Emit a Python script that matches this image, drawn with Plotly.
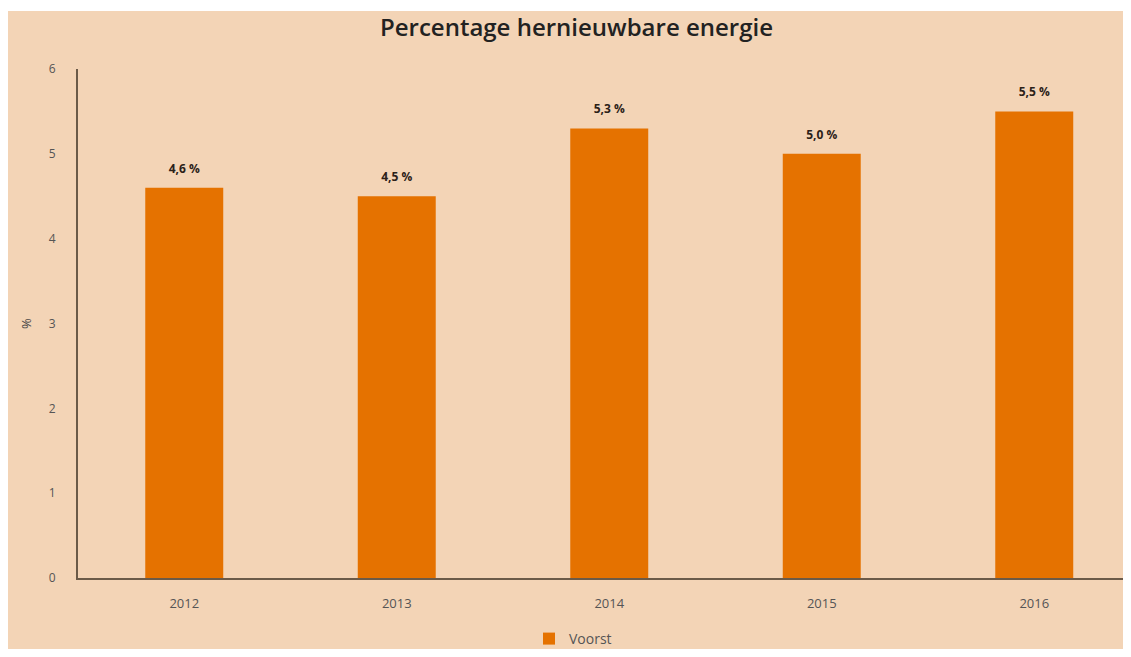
import plotly.graph_objects as go

years = ["2012", "2013", "2014", "2015", "2016"]
values = [4.6, 4.5, 5.3, 5.0, 5.5]
labels = ["4,6 %", "4,5 %", "5,3 %", "5,0 %", "5,5 %"]
series_name = "Voorst"
y_ticks = [0, 1, 2, 3, 4, 5, 6]

# page has an 8px body margin; keep the figure inside the 1131x657 window
W, H = 1123, 641
L, R, T, B = 70, 0, 61, 71
PW = W - L - R
PH = H - T - B


def px_to_paper_x(fx):
    return (fx - L) / PW


def px_to_paper_y(fy):
    return (H - B - fy) / PH


peach = "#F3D4B6"
orange = "#E57200"

fig = go.Figure()
fig.add_trace(go.Bar(
    x=years, y=values, name=series_name,
    marker=dict(color=orange, line=dict(width=0)),
    width=0.367,
    showlegend=True,
    hoverinfo="x+y",
))
fig.add_trace(go.Scatter(
    x=years, y=values, mode="markers+text", text=labels,
    textposition="top center",
    marker=dict(size=18, opacity=0, color=orange),
    textfont=dict(family="Open Sans", size=12, color="#2b2118", weight=700),
    showlegend=False, hoverinfo="skip", cliponaxis=False,
))

fig.update_layout(
    width=W, height=H,
    margin=dict(l=L, r=R, t=T, b=B, autoexpand=False),
    paper_bgcolor=peach, plot_bgcolor=peach,
    font=dict(family="Open Sans", color="#555"),
    title=dict(text="Percentage hernieuwbare energie", x=568.5 / W, xref="container",
               xanchor="center", y=1 - 20 / H, yanchor="middle",
               font=dict(family="Open Sans", size=24, color="#222", weight=600)),
    xaxis=dict(range=[-0.5, -0.5 + PW / 212.5], type="category",
               showgrid=False, showline=True, linecolor="#6b5a48", linewidth=2,
               ticks="", tickfont=dict(size=13, color="#555"), ticklabelstandoff=12,
               zeroline=False, fixedrange=True),
    yaxis=dict(range=[0, 6], tickvals=y_ticks, showgrid=False, showline=True,
               linecolor="#6b5a48", linewidth=2, ticks="",
               tickfont=dict(size=12, color="#555"), ticklabelstandoff=18,
               title=dict(text="%", font=dict(size=13, color="#444"), standoff=14),
               zeroline=False),
    legend=dict(orientation="h", x=565 / W, xref="container",
                xanchor="center", y=px_to_paper_y(631), yanchor="middle",
                font=dict(size=14, color="#555"), bgcolor="rgba(0,0,0,0)"),
    shapes=[
        dict(type="rect", xref="paper", yref="paper", layer="above",
             x0=px_to_paper_x(-5), x1=px_to_paper_x(W + 5),
             y0=px_to_paper_y(3), y1=px_to_paper_y(-5),
             fillcolor="white", line=dict(width=0)),
    ],
)

fig.write_html("out.html")
